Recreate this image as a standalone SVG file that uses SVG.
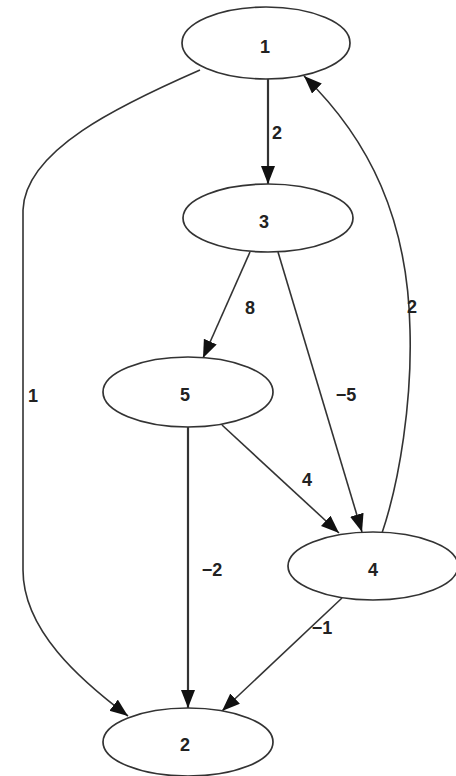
<svg xmlns="http://www.w3.org/2000/svg" width="456" height="776" viewBox="0 0 456 776">
<style>
.node ellipse{fill:#fff;stroke:#333;stroke-width:1.7}
.edge{fill:none;stroke:#333;stroke-width:1.6}
.thick{stroke-width:2.2}
text{font-family:"Liberation Sans",Arial,sans-serif;font-size:18px;font-weight:bold;fill:#222;text-anchor:middle;dominant-baseline:central}
</style>
<defs>
<marker id="arr" markerUnits="userSpaceOnUse" markerWidth="20" markerHeight="16" refX="18" refY="7" orient="auto">
<path d="M0,0 L18,7 L0,14 Z" fill="#111"/>
</marker>
</defs>
<rect width="456" height="776" fill="#fff"/>
<g id="edges">
<path class="edge" d="M200 70 C120 105,25 150,23 210 L23 570 C23 630,80 680,128 716" marker-end="url(#arr)"/>
<path class="edge thick" d="M268 79 L268 184" marker-end="url(#arr)"/>
<path class="edge" d="M382 533 C400 480,412 400,410 330 C408 220,370 140,304 76" marker-end="url(#arr)"/>
<path class="edge" d="M250 252 L203 358" marker-end="url(#arr)"/>
<path class="edge" d="M278 252 L362 532" marker-end="url(#arr)"/>
<path class="edge" d="M222 425 L339 533" marker-end="url(#arr)"/>
<path class="edge thick" d="M188 427 L188 708" marker-end="url(#arr)"/>
<path class="edge" d="M342 598 L222 711" marker-end="url(#arr)"/>
<text x="33" y="396">1</text>
<text x="277" y="133">2</text>
<text x="412" y="307">2</text>
<text x="250" y="308">8</text>
<text x="346" y="395">−5</text>
<text x="307" y="480">4</text>
<text x="212" y="570">−2</text>
<text x="322" y="628">−1</text>
</g>
<g id="node1" class="node"><ellipse cx="266" cy="43" rx="84" ry="36"/><text x="265" y="47">1</text></g>
<g id="node3" class="node"><ellipse cx="268" cy="218" rx="85" ry="34"/><text x="264" y="222">3</text></g>
<g id="node5" class="node"><ellipse cx="188" cy="392" rx="85" ry="35"/><text x="185" y="395">5</text></g>
<g id="node4" class="node"><ellipse cx="373" cy="566" rx="85" ry="34"/><text x="373" y="570">4</text></g>
<g id="node2" class="node"><ellipse cx="188" cy="742" rx="85" ry="34"/><text x="185" y="745">2</text></g>
</svg>
